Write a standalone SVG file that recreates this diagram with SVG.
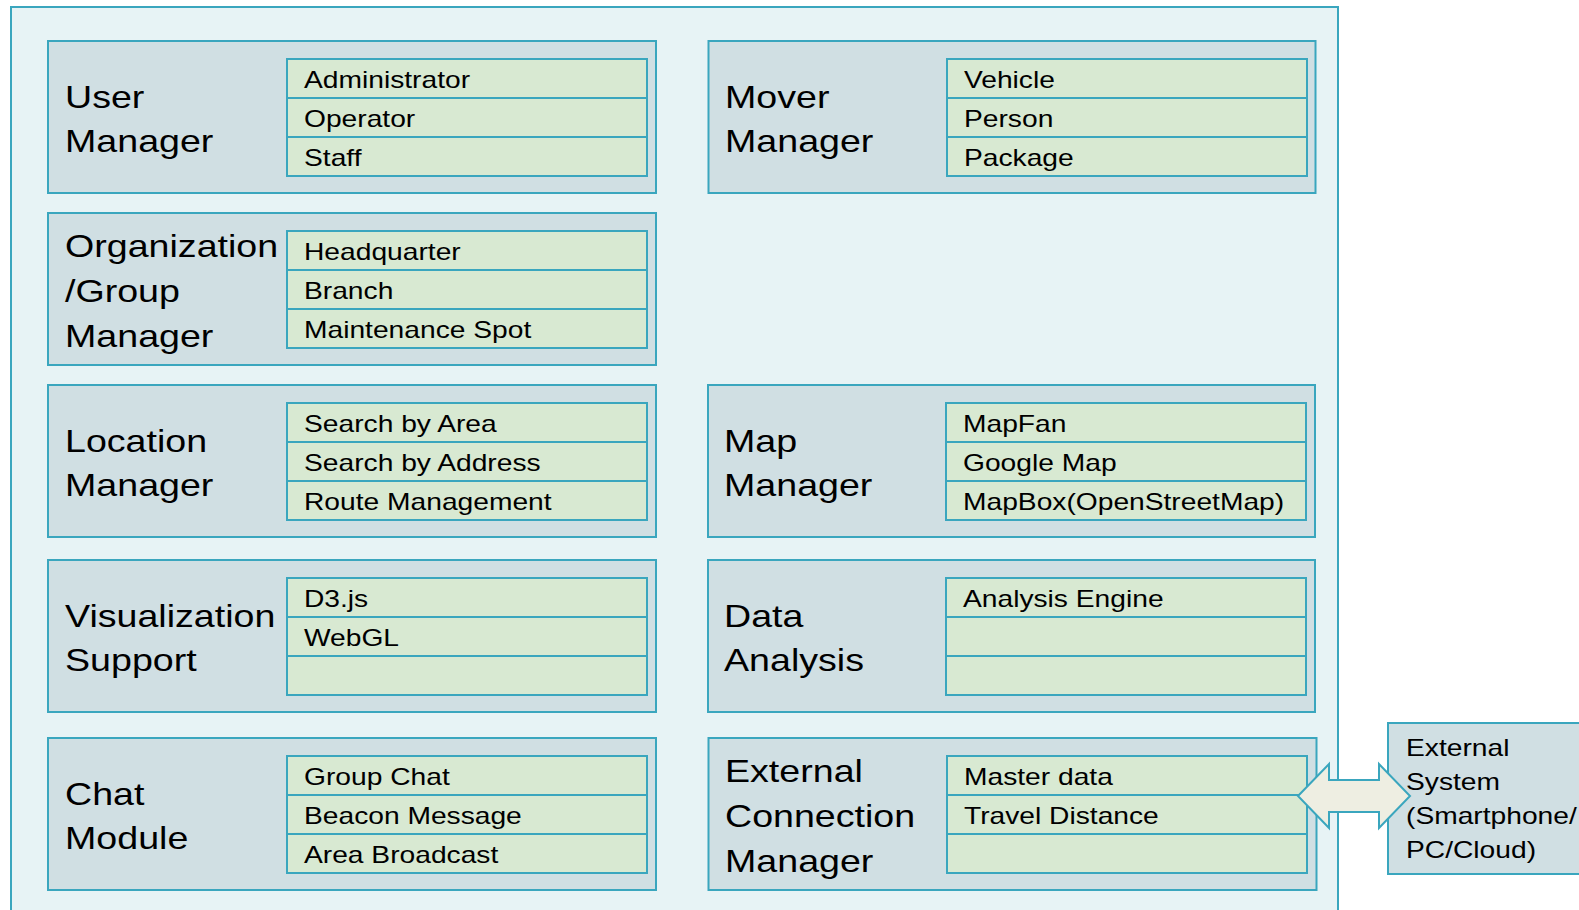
<svg xmlns="http://www.w3.org/2000/svg" width="1579" height="910" viewBox="0 0 1579 910">
  <style>
    .frame { fill: #E7F3F5; stroke: #3AA6BE; stroke-width: 2; }
    .box { fill: #D0DFE3; stroke: #3AA6BE; stroke-width: 2; }
    .list { fill: #D8E9D2; stroke: #3AA6BE; stroke-width: 2; }
    .sep { stroke: #3AA6BE; stroke-width: 2; }
    .title { font-family: "Liberation Sans", Arial, sans-serif; font-size: 32px; fill: #000; }
    .item { font-family: "Liberation Sans", Arial, sans-serif; font-size: 24px; fill: #000; }
    .arrow { fill: #EEEEE2; stroke: #3AA6BE; stroke-width: 2; stroke-linejoin: miter; }
  </style>

  <!-- outer system frame -->
  <rect class="frame" x="11" y="7" width="1327" height="920"/>

  <!-- User Manager -->
  <g id="user-manager">
    <rect class="box" x="48" y="41" width="608" height="152"/>
    <text class="title" transform="translate(65,107.5) scale(1.175,1)">User</text>
    <text class="title" transform="translate(65,151.5) scale(1.175,1)">Manager</text>
    <rect class="list" x="287" y="59" width="360" height="117"/>
    <line class="sep" x1="287" y1="98" x2="647" y2="98"/>
    <line class="sep" x1="287" y1="137" x2="647" y2="137"/>
    <text class="item" transform="translate(304,87.5) scale(1.175,1)">Administrator</text>
    <text class="item" transform="translate(304,126.5) scale(1.175,1)">Operator</text>
    <text class="item" transform="translate(304,165.5) scale(1.175,1)">Staff</text>
  </g>

  <!-- Mover Manager -->
  <g id="mover-manager">
    <rect class="box" x="708.5" y="41" width="607" height="152"/>
    <text class="title" transform="translate(725,107.5) scale(1.175,1)">Mover</text>
    <text class="title" transform="translate(725,151.5) scale(1.175,1)">Manager</text>
    <rect class="list" x="947" y="59" width="360" height="117"/>
    <line class="sep" x1="947" y1="98" x2="1307" y2="98"/>
    <line class="sep" x1="947" y1="137" x2="1307" y2="137"/>
    <text class="item" transform="translate(964,87.5) scale(1.175,1)">Vehicle</text>
    <text class="item" transform="translate(964,126.5) scale(1.175,1)">Person</text>
    <text class="item" transform="translate(964,165.5) scale(1.175,1)">Package</text>
  </g>

  <!-- Organization / Group Manager -->
  <g id="organization-manager">
    <rect class="box" x="48" y="213" width="608" height="152"/>
    <text class="title" transform="translate(65,256.5) scale(1.175,1)">Organization</text>
    <text class="title" transform="translate(65,301.5) scale(1.175,1)">/Group</text>
    <text class="title" transform="translate(65,346.5) scale(1.175,1)">Manager</text>
    <rect class="list" x="287" y="231" width="360" height="117"/>
    <line class="sep" x1="287" y1="270" x2="647" y2="270"/>
    <line class="sep" x1="287" y1="309" x2="647" y2="309"/>
    <text class="item" transform="translate(304,259.5) scale(1.175,1)">Headquarter</text>
    <text class="item" transform="translate(304,298.5) scale(1.175,1)">Branch</text>
    <text class="item" transform="translate(304,337.5) scale(1.175,1)">Maintenance Spot</text>
  </g>

  <!-- Location Manager -->
  <g id="location-manager">
    <rect class="box" x="48" y="385" width="608" height="152"/>
    <text class="title" transform="translate(65,451.5) scale(1.175,1)">Location</text>
    <text class="title" transform="translate(65,495.5) scale(1.175,1)">Manager</text>
    <rect class="list" x="287" y="403" width="360" height="117"/>
    <line class="sep" x1="287" y1="442" x2="647" y2="442"/>
    <line class="sep" x1="287" y1="481" x2="647" y2="481"/>
    <text class="item" transform="translate(304,431.5) scale(1.175,1)">Search by Area</text>
    <text class="item" transform="translate(304,470.5) scale(1.175,1)">Search by Address</text>
    <text class="item" transform="translate(304,509.5) scale(1.175,1)">Route Management</text>
  </g>

  <!-- Map Manager -->
  <g id="map-manager">
    <rect class="box" x="708" y="385" width="607" height="152"/>
    <text class="title" transform="translate(724,451.5) scale(1.175,1)">Map</text>
    <text class="title" transform="translate(724,495.5) scale(1.175,1)">Manager</text>
    <rect class="list" x="946" y="403" width="360" height="117"/>
    <line class="sep" x1="946" y1="442" x2="1306" y2="442"/>
    <line class="sep" x1="946" y1="481" x2="1306" y2="481"/>
    <text class="item" transform="translate(963,431.5) scale(1.175,1)">MapFan</text>
    <text class="item" transform="translate(963,470.5) scale(1.175,1)">Google Map</text>
    <text class="item" transform="translate(963,509.5) scale(1.175,1)">MapBox(OpenStreetMap)</text>
  </g>

  <!-- Visualization Support -->
  <g id="visualization-support">
    <rect class="box" x="48" y="560" width="608" height="152"/>
    <text class="title" transform="translate(65,626.5) scale(1.175,1)">Visualization</text>
    <text class="title" transform="translate(65,670.5) scale(1.175,1)">Support</text>
    <rect class="list" x="287" y="578" width="360" height="117"/>
    <line class="sep" x1="287" y1="617" x2="647" y2="617"/>
    <line class="sep" x1="287" y1="656" x2="647" y2="656"/>
    <text class="item" transform="translate(304,606.5) scale(1.175,1)">D3.js</text>
    <text class="item" transform="translate(304,645.5) scale(1.175,1)">WebGL</text>
  </g>

  <!-- Data Analysis -->
  <g id="data-analysis">
    <rect class="box" x="708" y="560" width="607" height="152"/>
    <text class="title" transform="translate(724,626.5) scale(1.175,1)">Data</text>
    <text class="title" transform="translate(724,670.5) scale(1.175,1)">Analysis</text>
    <rect class="list" x="946" y="578" width="360" height="117"/>
    <line class="sep" x1="946" y1="617" x2="1306" y2="617"/>
    <line class="sep" x1="946" y1="656" x2="1306" y2="656"/>
    <text class="item" transform="translate(963,606.5) scale(1.175,1)">Analysis Engine</text>
  </g>

  <!-- Chat Module -->
  <g id="chat-module">
    <rect class="box" x="48" y="738" width="608" height="152"/>
    <text class="title" transform="translate(65,804.5) scale(1.175,1)">Chat</text>
    <text class="title" transform="translate(65,848.5) scale(1.175,1)">Module</text>
    <rect class="list" x="287" y="756" width="360" height="117"/>
    <line class="sep" x1="287" y1="795" x2="647" y2="795"/>
    <line class="sep" x1="287" y1="834" x2="647" y2="834"/>
    <text class="item" transform="translate(304,784.5) scale(1.175,1)">Group Chat</text>
    <text class="item" transform="translate(304,823.5) scale(1.175,1)">Beacon Message</text>
    <text class="item" transform="translate(304,862.5) scale(1.175,1)">Area Broadcast</text>
  </g>

  <!-- External Connection Manager -->
  <g id="external-connection-manager">
    <rect class="box" x="708.5" y="738" width="608" height="152"/>
    <text class="title" transform="translate(725,781.5) scale(1.175,1)">External</text>
    <text class="title" transform="translate(725,826.5) scale(1.175,1)">Connection</text>
    <text class="title" transform="translate(725,871.5) scale(1.175,1)">Manager</text>
    <rect class="list" x="947" y="756" width="360" height="117"/>
    <line class="sep" x1="947" y1="795" x2="1307" y2="795"/>
    <line class="sep" x1="947" y1="834" x2="1307" y2="834"/>
    <text class="item" transform="translate(964,784.5) scale(1.175,1)">Master data</text>
    <text class="item" transform="translate(964,823.5) scale(1.175,1)">Travel Distance</text>
  </g>

  <!-- External System -->
  <g id="external-system">
    <rect class="box" x="1388" y="723" width="200" height="151"/>
    <text class="item" transform="translate(1406,756) scale(1.175,1)">External</text>
    <text class="item" transform="translate(1406,790) scale(1.175,1)">System</text>
    <text class="item" transform="translate(1406,824) scale(1.175,1)">(Smartphone/</text>
    <text class="item" transform="translate(1406,858) scale(1.175,1)">PC/Cloud)</text>
  </g>

  <!-- connectors -->
  <g id="connectors">
    <polygon class="arrow" points="1298,796 1329,764 1329,780 1379,780 1379,764 1410,796 1379,828 1379,812 1329,812 1329,828"/>
  </g>
</svg>
